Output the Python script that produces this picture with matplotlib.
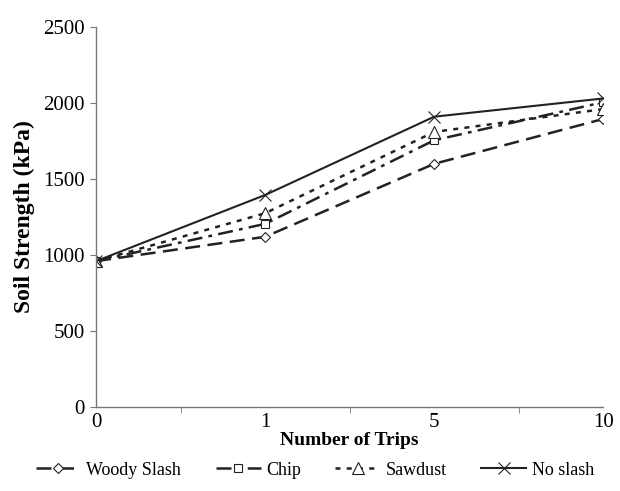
import matplotlib.pyplot as plt
import numpy as np

plt.rcParams['font.family'] = ['Liberation Serif', 'DejaVu Serif']

trips = ['0', '1', '5', '10']
woody_slash = [960, 1120, 1600, 1895]
chip = [960, 1205, 1755, 2005]
sawdust = [960, 1275, 1810, 1960]
no_slash = [960, 1395, 1910, 2030]

ink = '#222222'
x = np.arange(len(trips))

fig = plt.figure(figsize=(6.2, 4.91), dpi=100)
ax = fig.add_axes([0.155, 0.171, 0.818, 0.774])

ax.plot(x, woody_slash, color=ink, lw=1.8, ls=(0, (6, 3)), marker='D', ms=5,
        mfc='white', mec=ink, mew=0.8, label='Woody Slash')
ax.plot(x, chip, color=ink, lw=1.8, ls=(0, (6, 2.5, 1.5, 2.5)), marker='s', ms=6,
        mfc='white', mec=ink, mew=0.8, label='Chip')
ax.plot(x, sawdust, color=ink, lw=1.8, ls=(0, (2, 2.5)), marker='^', ms=8,
        mfc='white', mec=ink, mew=0.8, label='Sawdust')
ax.plot(x, no_slash, color=ink, lw=1.5, ls='-', marker='x', ms=8,
        mec=ink, mew=0.8, label='No slash')

ax.set_xlim(0, len(trips) - 1)
ax.set_ylim(0, 2500)
ax.set_xticks(x)
ax.set_xticklabels(trips)
ax.set_xticks(np.arange(0.5, len(trips) - 1, 1), minor=True)
ax.set_yticks(np.arange(0, 2501, 500))

for s in ['top', 'right']:
    ax.spines[s].set_visible(False)
for s in ['left', 'bottom']:
    ax.spines[s].set_color('#777777')
    ax.spines[s].set_linewidth(1.0)

ax.tick_params(axis='both', which='both', direction='out', color='#777777', labelsize=15, pad=3)
ax.tick_params(axis='x', which='major', length=0, pad=4)
ax.tick_params(axis='x', which='minor', length=4)
ax.tick_params(axis='y', length=4, pad=4)

ax.set_xlabel('Number of Trips', fontsize=14, fontweight='bold', labelpad=0)
ax.set_ylabel('Soil Strength (kPa)', fontsize=17, fontweight='bold', labelpad=6)

fig.legend(loc='lower center', bbox_to_anchor=(0.508, -0.008), ncol=4, frameon=False,
           fontsize=13, handlelength=2.5, columnspacing=1.9, handletextpad=0.3)

fig.savefig('out.png', dpi=100)
